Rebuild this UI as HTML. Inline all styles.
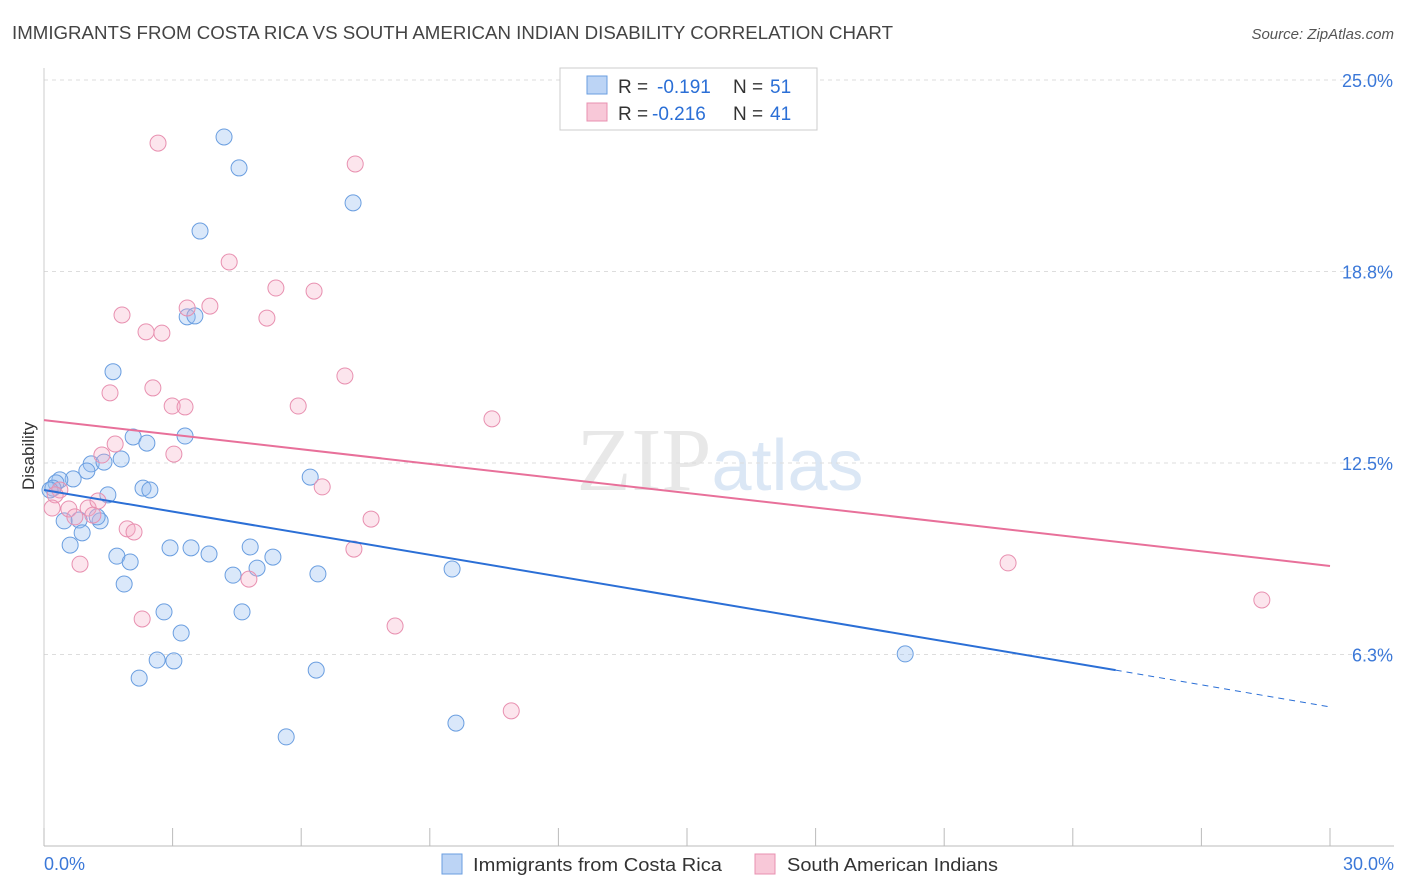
<!DOCTYPE html>
<html><head><meta charset="utf-8"><style>
body{margin:0;background:#fff;font-family:"Liberation Sans",sans-serif;}
svg{display:block}
</style></head><body>
<svg id="chart" width="1406" height="892" xmlns="http://www.w3.org/2000/svg">
<text x="12" y="39" font-size="18" fill="#444" textLength="881" lengthAdjust="spacingAndGlyphs">IMMIGRANTS FROM COSTA RICA VS SOUTH AMERICAN INDIAN DISABILITY CORRELATION CHART</text>
<text x="1394" y="39" font-size="15" fill="#555" font-style="italic" text-anchor="end">Source: ZipAtlas.com</text>
<text x="720" y="490" font-size="90" fill="#e8e8e8" text-anchor="middle" font-family="Liberation Serif,serif">ZIP<tspan fill="#dbe7f5" font-family="Liberation Sans,sans-serif" font-size="72">atlas</tspan></text>
<g id="grid"></g><g id="axes"></g><g id="marks"></g>
<text x="34" y="456" font-size="17" fill="#333" text-anchor="middle" transform="rotate(-90 34 456)">Disability</text>
<g>
<rect x="560" y="68" width="257" height="62" fill="#fff" stroke="#ccc"/>
<rect x="587" y="76" width="20" height="18" fill="#bcd4f5" stroke="#6a9ee0"/>
<text x="618" y="93" font-size="19" fill="#333">R =</text>
<text x="657" y="93" font-size="19" fill="#2b6fd6">-0.191</text>
<text x="733" y="93" font-size="19" fill="#333">N =</text>
<text x="770" y="93" font-size="19" fill="#2b6fd6">51</text>
<rect x="587" y="103" width="20" height="18" fill="#f8c8d8" stroke="#e890b0"/>
<text x="618" y="120" font-size="19" fill="#333">R =</text>
<text x="652" y="120" font-size="19" fill="#2b6fd6">-0.216</text>
<text x="733" y="120" font-size="19" fill="#333">N =</text>
<text x="770" y="120" font-size="19" fill="#2b6fd6">41</text>
</g>
<g>
<rect x="442" y="854" width="20" height="20" fill="#bcd4f5" stroke="#6a9ee0"/>
<text x="473" y="871" font-size="18" fill="#333" textLength="249" lengthAdjust="spacingAndGlyphs">Immigrants from Costa Rica</text>
<rect x="755" y="854" width="20" height="20" fill="#f8c8d8" stroke="#e890b0"/>
<text x="787" y="871" font-size="18" fill="#333" textLength="211" lengthAdjust="spacingAndGlyphs">South American Indians</text>
</g>
</svg>
<script>
const blueX=[4.20,4.55,7.21,3.64,3.34,3.52,1.61,2.08,2.40,3.29,1.80,1.10,1.40,0.68,1.00,0.37,0.28,0.21,0.14,1.49,2.31,2.47,6.21,0.47,0.82,1.31,1.24,0.89,0.61,1.70,2.01,2.94,3.43,3.85,4.81,5.34,4.41,4.97,6.39,9.52,1.87,2.80,4.62,3.20,2.64,3.03,2.22,6.35,5.65,9.61,20.09];
const blueY=[23.14,22.13,20.99,20.07,17.27,17.30,15.48,13.35,13.15,13.38,12.63,12.47,12.53,11.98,12.24,11.95,11.85,11.68,11.62,11.46,11.68,11.62,12.04,10.61,10.64,10.61,10.74,10.22,9.82,9.46,9.27,9.73,9.73,9.53,9.76,9.43,8.84,9.07,8.88,9.04,8.55,7.64,7.64,6.95,6.07,6.04,5.48,5.74,3.56,4.01,6.27];
const pinkX=[2.66,7.26,4.32,5.41,6.30,1.82,5.20,3.34,3.87,2.38,2.75,7.02,2.54,1.54,2.99,3.29,5.93,10.45,1.66,3.03,1.35,6.49,0.37,0.26,0.19,0.58,1.03,1.26,1.14,0.72,7.63,1.94,2.10,7.23,0.84,4.78,22.49,2.29,8.19,28.41,10.90];
const pinkY=[22.94,22.26,19.06,18.21,18.11,17.33,17.23,17.56,17.62,16.78,16.74,15.34,14.95,14.79,14.36,14.33,14.36,13.94,13.12,12.79,12.76,11.72,11.62,11.46,11.03,11.00,11.03,11.26,10.80,10.74,10.67,10.35,10.25,9.69,9.20,8.71,9.24,7.41,7.18,8.03,4.41];
const blueTrend=[11.62,5.74,4.54]; // at x=0, 25, 30
const pinkTrend=[13.90,9.14]; // at x=0, 30
const yTicks=[6.25,12.5,18.75,25];
const yTickLabels=["6.3%","12.5%","18.8%","25.0%"];
const xTicks=[0,3,6,9,12,15,18,21,24,27,30];
const NS="http://www.w3.org/2000/svg";
const sx=v=>44+v/30*1286;
const sy=v=>846-v*30.64;
function el(tag,attrs,parent){const e=document.createElementNS(NS,tag);for(const k in attrs)e.setAttribute(k,attrs[k]);parent.appendChild(e);return e;}
const grid=document.getElementById('grid'),axes=document.getElementById('axes'),marks=document.getElementById('marks');
yTicks.forEach((t,i)=>{
 const g=el('line',{x1:44,x2:1394,y1:sy(t),y2:sy(t),stroke:'#ddd','stroke-dasharray':'4 4'},grid);
 
 
 const tx=el('text',{x:1393,y:sy(t)+7,'font-size':18,fill:'#3b78d8','text-anchor':'end'},axes);
 tx.textContent=yTickLabels[i];
 
 
});
const ax=el('line',{x1:44,x2:1394,y1:846,y2:846,stroke:'#bbb'},axes);


const ay=el('line',{x1:44,x2:44,y1:68,y2:846,stroke:'#ccc'},axes);


xTicks.forEach(t=>{
 const l=el('line',{x1:sx(t),x2:sx(t),y1:828,y2:846,stroke:'#bbb'},axes);
 
 
});
const xl0=el('text',{x:44,y:870,'font-size':18,fill:'#3b78d8'},axes);xl0.textContent="0.0%";


const xl1=el('text',{x:1394,y:870,'font-size':18,fill:'#3b78d8','text-anchor':'end'},axes);xl1.textContent="30.0%";


blueX.forEach((x,i)=>{
 const c=el('circle',{cx:sx(x),cy:sy(blueY[i]),r:8,fill:'rgba(150,190,240,0.35)',stroke:'#6a9ee0','stroke-width':1},marks);
 
 
});
pinkX.forEach((x,i)=>{
 const c=el('circle',{cx:sx(x),cy:sy(pinkY[i]),r:8,fill:'rgba(245,170,195,0.3)',stroke:'#e890b0','stroke-width':1},marks);
 
 
});
const bl=el('line',{x1:sx(0),y1:sy(blueTrend[0]),x2:sx(25),y2:sy(blueTrend[1]),stroke:'#2b6fd6','stroke-width':2},marks);


const bd=el('line',{x1:sx(25),y1:sy(blueTrend[1]),x2:sx(30),y2:sy(blueTrend[2]),stroke:'#2b6fd6','stroke-width':1,'stroke-dasharray':'6 5'},marks);


const pl=el('line',{x1:sx(0),y1:sy(pinkTrend[0]),x2:sx(30),y2:sy(pinkTrend[1]),stroke:'#e8709a','stroke-width':2},marks);


</script>
</body></html>
